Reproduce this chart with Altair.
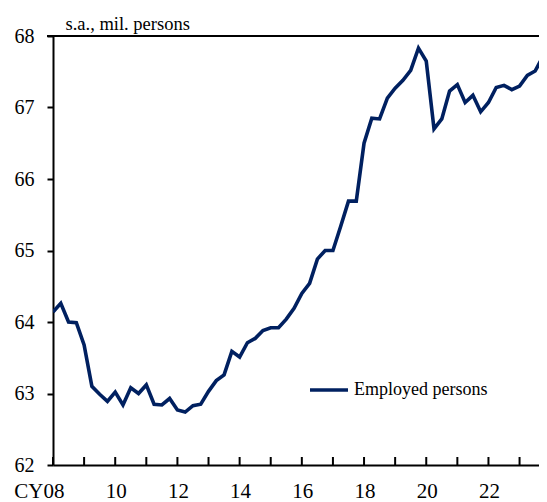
import altair as alt
import pandas as pd

# quarterly, 2008Q1 .. 2023Q4 (mil. persons, s.a.)
start_year = 2008
values = [
    64.14, 64.26, 64.00, 63.99,   # 2008
    63.68, 63.10, 62.99, 62.89,   # 2009
    63.02, 62.84, 63.08, 63.00,   # 2010
    63.12, 62.85, 62.84, 62.93,   # 2011
    62.77, 62.74, 62.83, 62.85,   # 2012
    63.03, 63.18, 63.26, 63.59,   # 2013
    63.51, 63.71, 63.77, 63.88,   # 2014
    63.92, 63.92, 64.04, 64.19,   # 2015
    64.40, 64.54, 64.88, 65.00,   # 2016
    65.00, 65.34, 65.69, 65.69,   # 2017
    66.50, 66.85, 66.84, 67.13,   # 2018
    67.27, 67.38, 67.52, 67.83,   # 2019
    67.65, 66.70, 66.84, 67.23,   # 2020
    67.32, 67.07, 67.17, 66.94,   # 2021
    67.07, 67.28, 67.31, 67.25,   # 2022
    67.30, 67.45, 67.51, 67.71,   # 2023
]
series_name = "Employed persons"
label_years = [2008, 2010, 2012, 2014, 2016, 2018, 2020, 2022]
tick_years = list(range(2008, 2024))
y_ticks = [62, 63, 64, 65, 66, 67, 68]

x_domain = [2008, 2023.625]
y_domain = [62, 68]

df = pd.DataFrame({
    "t": [start_year + i / 4 for i in range(len(values))],
    "v": values,
    "s": [series_name] * len(values),
})
ticks_df = pd.DataFrame({"t": tick_years})

FONT = "Liberation Serif"
NAVY = "#002060"
W, H = 486, 429

x_scale = alt.Scale(domain=x_domain, nice=False, zero=False)
y_scale = alt.Scale(domain=y_domain, nice=False, zero=False)

line = alt.Chart(df).mark_line(color=NAVY, strokeWidth=3.6, clip=True,
                               strokeJoin="miter").encode(
    x=alt.X("t:Q", scale=x_scale, axis=alt.Axis(
        values=label_years, title=None, ticks=False, grid=False,
        labelExpr="datum.value == 2008 ? 'CY08' : format(datum.value % 100, '02d')",
        labelAlign="right", labelOffset=11, labelPadding=15,
        labelFont=FONT, labelFontSize=21, labelColor="black",
        labelOverlap=False, labelFlush=False,
        domainColor="black", domainWidth=2)),
    y=alt.Y("v:Q", scale=y_scale, axis=alt.Axis(
        values=y_ticks, format="d", title="s.a., mil. persons", grid=False,
        tickSize=6, tickColor="black", tickWidth=2,
        labelFont=FONT, labelFontSize=20, labelColor="black", labelPadding=13,
        domainColor="black", domainWidth=2,
        titleAngle=0, titleAlign="left", titleBaseline="alphabetic",
        titleX=12, titleY=-7, titleFont=FONT, titleFontSize=18.5,
        titleFontWeight="normal", titleColor="black")),
    color=alt.Color("s:N", scale=alt.Scale(range=[NAVY]), legend=alt.Legend(
        title=None, orient="none", legendX=255, legendY=333, padding=0,
        symbolType="stroke", symbolSize=1444, symbolStrokeWidth=3.6,
        labelFont=FONT, labelFontSize=18, labelColor="black", labelOffset=4)),
)

xticks = alt.Chart(ticks_df).mark_rule(color="black", strokeWidth=2).encode(
    x=alt.X("t:Q", scale=x_scale),
    y=alt.value(H), y2=alt.value(H - 8),
)

top_line = alt.Chart(pd.DataFrame({"y": [y_domain[1]]})).mark_rule(
    color="black", strokeWidth=2).encode(
    y=alt.Y("y:Q", scale=y_scale),
    x=alt.value(-6), x2=alt.value(W),
)

chart = alt.layer(line, xticks, top_line).properties(
    width=W, height=H,
    autosize=alt.AutoSizeParams(type="none"),
    padding={"left": 45, "top": 28, "right": 0, "bottom": 37},
).configure_view(stroke=None).configure(background="white")

chart.save("out.html", embed_options={"renderer": "svg", "actions": False})
